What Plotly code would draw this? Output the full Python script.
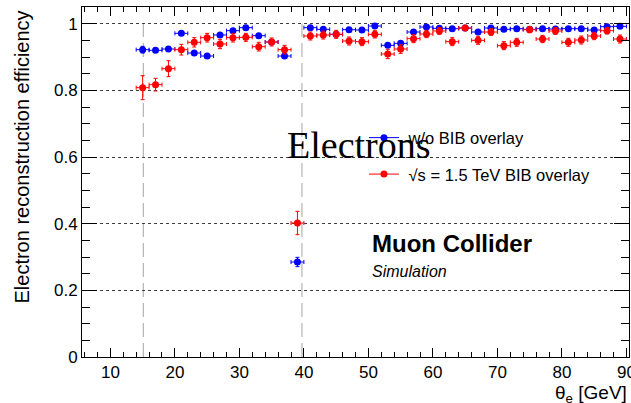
import plotly.graph_objects as go

# Polar-angle bin centres (bins are 2 units wide)
theta = [15, 17, 19, 21, 23, 25, 27, 29, 31, 33, 35, 37, 39,
         41, 43, 45, 47, 49, 51, 53, 55, 57, 59, 61, 63, 65,
         67, 69, 71, 73, 75, 77, 79, 81, 83, 85, 87, 89]
theta_halfwidth = [1.0] * len(theta)

# Efficiency without beam-induced background
eff_nobib = [0.922, 0.920, 0.924, 0.971, 0.912, 0.903, 0.966, 0.979, 0.988, 0.964, 0.945, 0.903, 0.285,
             0.988, 0.983, 0.968, 0.982, 0.981, 0.993, 0.935, 0.941, 0.975, 0.990, 0.986, 0.985, 0.987,
             0.975, 0.987, 0.983, 0.985, 0.983, 0.985, 0.984, 0.985, 0.985, 0.981, 0.991, 0.992]
err_nobib = [0.010, 0.006, 0.006, 0.005, 0.006, 0.006, 0.005, 0.005, 0.004, 0.005, 0.006, 0.006, 0.014,
             0.004, 0.004, 0.005, 0.004, 0.004, 0.003, 0.006, 0.006, 0.005, 0.004, 0.004, 0.004, 0.004,
             0.005, 0.004, 0.004, 0.004, 0.004, 0.004, 0.004, 0.004, 0.004, 0.004, 0.003, 0.003]

# Efficiency with sqrt(s) = 1.5 TeV BIB overlay
eff_bib = [0.808, 0.817, 0.865, 0.922, 0.944, 0.958, 0.939, 0.958, 0.959, 0.931, 0.945, 0.922, 0.402,
           0.963, 0.966, 0.968, 0.948, 0.946, 0.968, 0.909, 0.924, 0.955, 0.969, 0.978, 0.946, 0.987,
           0.950, 0.975, 0.934, 0.944, 0.982, 0.954, 0.978, 0.944, 0.951, 0.963, 0.979, 0.954]
err_bib = [0.036, 0.019, 0.024, 0.016, 0.014, 0.013, 0.014, 0.013, 0.012, 0.013, 0.012, 0.013, 0.035,
           0.012, 0.012, 0.012, 0.012, 0.012, 0.011, 0.014, 0.013, 0.012, 0.011, 0.010, 0.012, 0.008,
           0.012, 0.010, 0.012, 0.012, 0.009, 0.011, 0.010, 0.012, 0.012, 0.011, 0.010, 0.012]

# Detector region boundaries
boundaries = [15.1, 39.7]

BLUE = "rgb(0,0,255)"
RED = "rgb(255,0,0)"
FONT = "Liberation Sans, Arial, sans-serif"

fig = go.Figure()


def add_series(y, yerr, color):
    fig.add_trace(go.Scatter(
        x=theta, y=y, mode="markers", showlegend=False,
        marker=dict(color=color, size=7),
        error_x=dict(type="data", array=theta_halfwidth, color=color, thickness=1, width=2),
        error_y=dict(type="data", array=yerr, color=color, thickness=1, width=2),
        cliponaxis=False,
    ))


add_series(eff_nobib, err_nobib, BLUE)
add_series(eff_bib, err_bib, RED)

# Legend entries: marker with a horizontal line through it
fig.add_trace(go.Scatter(x=[None], y=[None], mode="lines+markers", name="\u00a0w/o BIB overlay",
                         line=dict(color=BLUE, width=1), marker=dict(color=BLUE, size=7),
                         legendgroup="a"))
fig.add_trace(go.Scatter(x=[None], y=[None], mode="lines+markers", name="\u00a0√s = 1.5 TeV BIB overlay",
                         line=dict(color=RED, width=1), marker=dict(color=RED, size=7),
                         legendgroup="b"))

for b in boundaries:
    fig.add_shape(type="line", x0=b, x1=b, y0=0, y1=1, xref="x", yref="y",
                  line=dict(color="rgb(165,165,165)", width=1, dash="14px,6px"), layer="below")

axis_common = dict(
    showline=True, linecolor="black", linewidth=1, mirror="allticks",
    ticks="inside", tickcolor="black", zeroline=False, automargin=False,
    tickfont=dict(family=FONT, size=17, color="black"),
)

fig.update_xaxes(
    range=[5.6, 90.4], dtick=10, tick0=0, ticklen=9, showgrid=False,
    ticklabeloverflow="allow",
    minor=dict(ticks="inside", dtick=2, tick0=0, ticklen=5, tickcolor="black", showgrid=False),
    **axis_common,
)
fig.update_yaxes(
    range=[0, 1.05], dtick=0.2, tick0=0, ticklen=15, tickformat="~g",
    showgrid=True, gridcolor="rgb(60,60,60)", gridwidth=1, griddash="dot",
    minor=dict(ticks="inside", dtick=0.05, tick0=0, ticklen=8, tickcolor="black", showgrid=False),
    **axis_common,
)

annotations = [
    dict(text="Electrons", x=0.371, y=0.607, xanchor="left", yanchor="middle",
         font=dict(family="Liberation Serif, Times New Roman, serif", size=38, color="black")),
    dict(text="<b>Muon Collider</b>", x=0.5265, y=0.323, xanchor="left", yanchor="middle",
         font=dict(family=FONT, size=24, color="black")),
    dict(text="<i>Simulation</i>", x=0.5265, y=0.243, xanchor="left", yanchor="middle",
         font=dict(family=FONT, size=16, color="black")),
    dict(text="θ<sub>e</sub> [GeV]", x=1.0, y=-0.105, xanchor="right", yanchor="middle",
         font=dict(family=FONT, size=19, color="black")),
    dict(text="Electron reconstruction efficiency", x=-0.109, y=0.571, textangle=-90,
         xanchor="center", yanchor="middle",
         font=dict(family=FONT, size=20, color="black")),
]
for a in annotations:
    a.update(xref="paper", yref="paper", showarrow=False)

fig.update_layout(
    width=631, height=403,
    margin=dict(l=82, r=2, t=7, b=46, autoexpand=False),
    plot_bgcolor="white", paper_bgcolor="white",
    annotations=annotations,
    showlegend=True,
    legend=dict(x=0.5155, y=0.676, xanchor="left", yanchor="top",
                bgcolor="rgba(0,0,0,0)", borderwidth=0,
                font=dict(family=FONT, size=16.5, color="black"),
                tracegroupgap=12, itemwidth=30),
)

fig.write_html("out.html")
